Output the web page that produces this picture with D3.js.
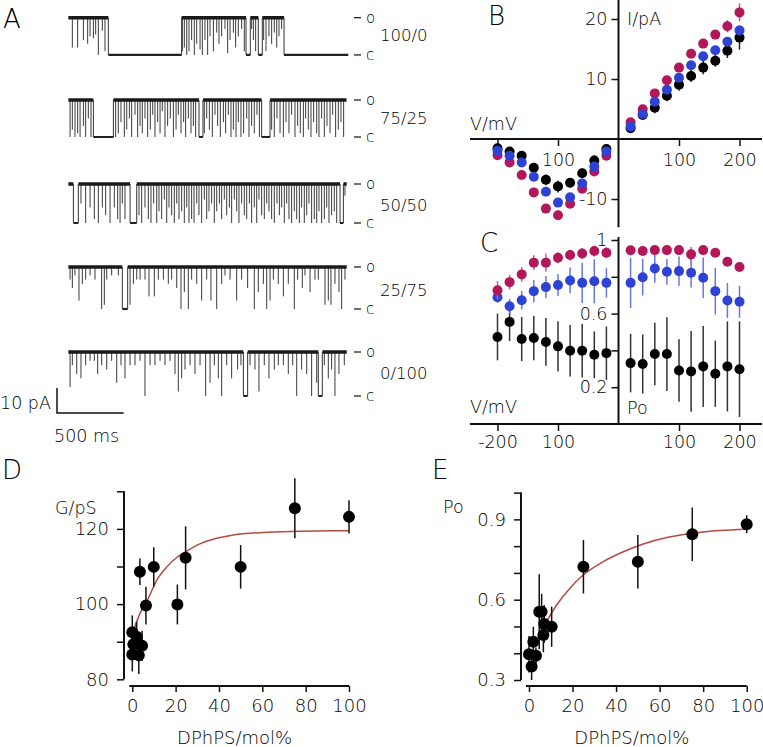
<!DOCTYPE html>
<html><head><meta charset="utf-8">
<script src="https://cdn.jsdelivr.net/npm/d3@7"></script>
<style>
body{margin:0;background:#fff}
svg{display:block}
text{font-family:"DejaVu Sans","Liberation Sans",sans-serif;font-weight:300;fill:#000}
</style></head><body>
<svg id="fig" width="763" height="747"></svg>
<script>
// ---------- Panel A: single-channel traces (times in ms, depth = fraction of unitary current) ----------
const traceLabels = ["100/0", "75/25", "50/50", "25/75", "0/100"];
const unitaryCurrent = [14.9, 14.8, 15.6, 16.8, 17.6]; // pA
const traceSpan = [[25, 2125], [25, 2112], [25, 2113], [25, 2113], [25, 2113]];

const closed1 = [[325, 875], [1358, 1390], [1450, 1480], [1643, 2125]];
const spikes1 = [[55,.8],[95,.8],[138,.6],[170,.7],[188,.5],[213,.55],[230,.45],[250,1],[280,.35],[300,.9],
 [880,.9],[895,.8],[913,1],[930,.9],[950,.6],[970,1],[988,.7],[1013,.85],[1030,1],[1050,.6],[1070,1],[1088,.5],
 [1113,.9],[1138,.4],[1155,.7],[1175,.5],[1200,.3],[1220,.95],[1238,.6],[1263,.4],[1280,.8],[1300,.5],[1325,.3],[1345,.9],
 [1400,.3],[1413,.6],[1430,.9],[1490,.6],[1508,.9],[1530,.5],[1550,.7],[1570,.4],[1588,.8],[1605,.5],[1625,.3]];

const closed2 = [[213, 363], [1005, 1035], [1475, 1538]];
const spikes2 = [[38,1],[55,.8],[75,1],[95,.9],[113,1],[138,.7],[155,1],[175,.5],[195,1],
 [380,1],[400,.9],[420,.6],[445,1],[463,.8],[483,.5],[500,1],[525,.4],[545,1],[563,.7],[580,.9],[600,.5],[620,1],
 [640,.8],[658,.4],[675,1],[695,.6],[713,.9],[730,.3],[750,1],[770,.7],[790,.5],[813,1],[833,.8],[850,.4],[870,.9],
 [890,.6],[905,1],[925,.5],[945,.9],[963,.7],[980,1],[1045,.9],[1063,.5],[1083,.8],[1105,1],[1125,.4],[1145,.7],
 [1165,1],[1188,.6],[1205,.9],[1225,.4],[1245,1],[1263,.8],[1283,1],[1300,.6],[1320,1],[1340,.9],[1363,.5],[1380,1],
 [1400,.7],[1420,.9],[1440,.4],[1458,1],[1550,.8],[1570,1],[1590,.5],[1613,.9],[1638,1],[1658,.6],[1680,.9],[1700,.4],
 [1725,1],[1745,.7],[1765,.9],[1788,1],[1805,.5],[1825,.8],[1845,1],[1865,.6],[1888,.9],[1905,1],[1925,.5],[1945,1],
 [1965,.7],[1988,.9],[2008,.4],[2030,1],[2050,.8],[2070,.6],[2090,1]];

const closed3 = [[63, 100], [488, 538], [2063, 2088]];
const spikes3 = [[120,.5],[155,1],[188,.6],[220,.9],[250,1],[280,.6],[305,.8],[338,1],[370,.6],[395,.9],[413,1],[430,.5],[450,.9],
 [555,.8],[575,1],[600,.6],[625,.9],[645,1],[665,.5],[688,1],[705,.7],[725,.9],[745,.4],[763,1],[780,.6],[800,.8],[820,1],
 [838,.5],[855,.9],[875,.7],[895,1],[913,.6],[930,1],[950,.9],[968,1],[988,.5],[1005,.8],[1025,1],[1045,.4],[1063,.9],
 [1080,.7],[1100,.5],[1120,1],[1138,.7],[1158,.5],[1175,.9],[1195,.4],[1213,.8],[1233,.6],[1250,1],[1270,.4],[1288,.7],
 [1305,1],[1325,.5],[1345,.8],[1363,.9],[1383,.5],[1400,1],[1420,.6],[1438,1],[1455,.4],[1475,.8],[1495,.9],[1513,.5],
 [1530,.7],[1550,.9],[1570,1],[1590,.5],[1608,.8],[1625,.6],[1645,1],[1663,.5],[1680,.9],[1700,1],[1720,.7],[1738,.9],
 [1758,1],[1775,.6],[1795,1],[1813,.8],[1830,.5],[1850,1],[1870,.9],[1888,1],[1905,.7],[1925,1],[1945,.9],[1963,.6],
 [1980,1],[2000,.8],[2020,.7],[2038,1],[2100,.3]];

const closed4 = [[430, 470]];
const spikes4 = [[38,.3],[55,.5],[75,.2],[105,.8],[130,.4],[155,.3],[188,.2],[225,.3],[275,1],[295,.9],[313,.3],[350,.2],[400,.2],
 [488,.9],[513,.4],[538,.3],[563,.3],[600,.3],[630,.7],[670,.7],[700,.3],[738,.3],[775,.4],[800,.3],[838,.5],[870,1],
 [895,.6],[925,1],[950,.3],[988,.4],[1025,.8],[1063,.3],[1095,.8],[1138,1],[1175,.4],[1200,.2],[1238,.3],[1288,.8],
 [1325,.3],[1370,.5],[1420,1],[1450,.6],[1488,.4],[1513,1],[1538,.8],[1563,.3],[1600,.4],[1638,.7],[1675,.4],[1720,1],
 [1745,.3],[1780,.5],[1800,.2],[1838,.6],[1875,.3],[1900,.3],[1950,.9],[1975,.8],[1995,.9],[2025,.4],[2055,.6],[2075,1],[2100,.3]];

const closed5 = [[1338, 1370], [1900, 1930]];
const spikes5 = [[38,.8],[55,.3],[88,.5],[120,.6],[155,.3],[188,.2],[220,.2],[245,.5],[275,.3],[313,.4],[350,.2],[388,.7],
 [420,.3],[450,.6],[488,.3],[525,.3],[563,.2],[600,1],[638,.3],[675,.3],[713,.2],[750,.3],[788,.2],[825,.5],[850,.9],
 [875,.6],[900,.4],[938,.3],[975,.5],[1013,.3],[1055,1],[1088,.7],[1120,.3],[1150,.6],[1175,1],[1213,.3],[1250,.6],
 [1295,.4],[1320,.3],[1388,.3],[1425,.4],[1455,.9],[1495,.3],[1530,.6],[1570,.4],[1600,.3],[1638,.3],[1675,.5],
 [1708,.3],[1738,1],[1775,.4],[1813,.5],[1850,1],[1888,.7],[1945,.3],[1975,.6],[2000,.4],[2025,1],[2055,.5],[2095,.3]];

const traceClosed = [closed1, closed2, closed3, closed4, closed5];
const traceSpikes = [spikes1, spikes2, spikes3, spikes4, spikes5];

// ---------- Panel B: I-V ----------
const voltages = [-200,-180,-160,-140,-120,-100,-80,-60,-40,-20,20,40,60,80,100,120,140,160,180,200];
const ivBlack = [-1.55,-2.1,-2.8,-4.8,-6.8,-7.9,-7.3,-5.7,-3.6,-1.67,1.8,4.0,5.2,7.2,9.06,10.5,11.9,13.05,14.7,16.9];
const ivBlue  = [-1.94,-2.8,-3.9,-6.3,-8.8,-10.6,-9.7,-7.4,-4.6,-2.1,2.06,4.17,6.2,8.2,10.2,12.3,13.8,14.8,16.2,18.1];
const ivRed   = [-2.7,-3.9,-6.0,-8.9,-11.6,-12.7,-10.8,-8.3,-5.4,-2.8,2.8,4.95,7.6,9.8,11.9,14.2,15.9,17.4,18.8,21.1];
const ivBlackErr = [0.5,0.6,0.6,0.7,0.9,1.0,0.8,0.8,0.9,0.6,0.4,0.5,0.9,0.9,1.0,1.0,1.1,1.0,1.2,2.0];
const ivBlueErr  = [0.5,0.5,0.5,0.5,0.5,0.6,0.6,0.5,0.5,0.5,0.4,0.4,0.5,0.5,0.5,0.5,0.6,0.7,0.7,0.8];
const ivRedErr   = [0.5,0.5,0.5,0.5,0.5,0.5,0.6,0.5,0.5,0.5,0.4,0.4,0.5,0.5,0.5,0.5,0.6,0.8,1.0,1.5];

// ---------- Panel C: Po-V ----------
const poRed   = [0.727,0.771,0.813,0.877,0.877,0.904,0.918,0.927,0.94,0.931,0.944,0.94,0.945,0.945,0.945,0.922,0.945,0.931,0.882,0.853];
const poRedErr= [0.05,0.04,0.04,0.04,0.05,0.03,0.03,0.03,0.03,0.03,0.02,0.02,0.02,0.02,0.02,0.04,0.02,0.02,0.02,0.02];
const poBlue  = [0.689,0.64,0.673,0.722,0.744,0.755,0.78,0.767,0.776,0.767,0.767,0.798,0.845,0.827,0.831,0.822,0.795,0.722,0.671,0.664];
const poBlueErr=[0.03,0.04,0.05,0.06,0.06,0.06,0.07,0.11,0.12,0.08,0.136,0.1,0.077,0.07,0.08,0.08,0.11,0.127,0.095,0.086];
const poBlack = [0.473,0.555,0.462,0.467,0.446,0.422,0.398,0.398,0.376,0.385,0.331,0.326,0.38,0.38,0.291,0.286,0.313,0.273,0.313,0.298];
const poBlackErr=[0.127,0.104,0.12,0.12,0.13,0.136,0.14,0.145,0.127,0.145,0.159,0.16,0.17,0.2,0.17,0.22,0.22,0.18,0.245,0.26];

// ---------- Panel D: conductance vs DPhPS ----------
const dMol = [0, 0.5, 0, 2, 4.5, 3, 3.5, 6.3, 9.9, 20.8, 24.6, 50, 75, 100];
const dG   = [92.5, 89.3, 86.6, 91.3, 88.9, 86.4, 108.6, 99.6, 109.9, 99.9, 112.3, 109.9, 125.5, 123.2];
const dErr = [4.5, 4, 4.5, 4, 4, 5, 3.5, 5, 5.2, 5.3, 8.4, 5.8, 8, 4.4];
const dFitMol = [0.9, 3.6, 6.6, 11.3, 15.9, 20.5, 24.6, 31.2, 38.9, 46.6, 62, 77.4, 100];
const dFitG   = [93.6, 97.6, 100.6, 106.4, 109.9, 112.4, 113.9, 116, 117.5, 118.4, 119.1, 119.4, 119.5];

// ---------- Panel E: Po vs DPhPS ----------
const eMol = [0, 1.2, 2, 3.2, 4.7, 5.8, 6.6, 7, 10.4, 25, 50, 75, 100];
const ePo  = [0.396, 0.35, 0.443, 0.391, 0.555, 0.555, 0.468, 0.509, 0.499, 0.723, 0.742, 0.844, 0.882];
const eErr = [0.068, 0.05, 0.056, 0.03, 0.14, 0.067, 0.064, 0.07, 0.075, 0.1, 0.1, 0.1, 0.033];
const eFitMol = [2.76, 5, 8.1, 12.7, 18.8, 24.9, 34.1, 43.3, 52.5, 63.3, 75.2, 87.7, 100];
const eFitPo  = [0.439, 0.468, 0.518, 0.58, 0.643, 0.692, 0.742, 0.779, 0.808, 0.832, 0.848, 0.858, 0.863];

// ====================== drawing ======================
const svg = d3.select("#fig");
const RED = "#b3175a", BLUE = "#2e43d6", BLACK = "#000";
const FIT = "#b54a42";
const FS = 17.5;

function panelLetter(t, x, y) {
  svg.append("text").attr("x", x).attr("y", y).attr("font-size", 26).text(t);
}

// ----- Panel A -----
panelLetter("A", 3, 28);
const tx = d3.scaleLinear().domain([0, 2125]).range([65, 348.3]);
const pxPerPA = d3.scaleLinear().domain([0, 10]).range([0, 25]);
const openY = [17.7, 100, 184, 267, 352];
const labelY = [35, 118, 205, 290, 373];

traceLabels.forEach((lab, i) => {
  const y0 = openY[i];
  const amp = pxPerPA(unitaryCurrent[i]);
  const y1 = y0 + amp;
  const [t0, t1] = traceSpan[i];
  const cl = traceClosed[i];
  const g = svg.append("g");
  const openSegs = [];
  let cur = t0;
  cl.forEach(([a, b]) => { if (a > cur) openSegs.push([cur, a]); cur = b; });
  if (cur < t1) openSegs.push([cur, t1]);
  // brief closures (drawn first, beneath the open band)
  const ps = d3.path();
  traceSpikes[i].forEach(([t, d]) => { ps.moveTo(tx(t), y0); ps.lineTo(tx(t), y0 + d * amp); });
  g.append("path").attr("d", ps.toString()).attr("stroke", "#3a3a3a").attr("stroke-width", 1).attr("fill", "none");
  // open segments
  const p = d3.path();
  openSegs.forEach(([a, b]) => { p.moveTo(tx(a), y0); p.lineTo(tx(b), y0); });
  g.append("path").attr("d", p.toString()).attr("stroke", "#1a1a1a").attr("stroke-width", 3.6).attr("fill", "none");
  // closed segments and transitions
  const pc = d3.path();
  cl.forEach(([a, b]) => { pc.moveTo(tx(a), y1); pc.lineTo(tx(b), y1); });
  g.append("path").attr("d", pc.toString()).attr("stroke", "#222").attr("stroke-width", 2.2).attr("fill", "none");
  const pt = d3.path();
  cl.forEach(([a, b]) => {
    if (a > t0) { pt.moveTo(tx(a), y0); pt.lineTo(tx(a), y1); }
    if (b < t1) { pt.moveTo(tx(b), y1); pt.lineTo(tx(b), y0); }
  });
  g.append("path").attr("d", pt.toString()).attr("stroke", "#333").attr("stroke-width", 1).attr("fill", "none");
  [[y0, "o"], [y1, "c"]].forEach(([yy, s]) => {
    svg.append("line").attr("x1", 354).attr("x2", 361).attr("y1", yy).attr("y2", yy).attr("stroke", "#111").attr("stroke-width", 1.2);
    svg.append("text").attr("x", 366).attr("y", yy + 5).attr("font-size", 15).text(s);
  });
  svg.append("text").attr("x", 380).attr("y", labelY[i] + 6).attr("font-size", 16.5).text(lab);
});
const sbX = 57, sbY = 413;
svg.append("path").attr("d", `M${sbX},${sbY - pxPerPA(10)}V${sbY}H${sbX + tx(500) - tx(0)}`)
  .attr("stroke", "#111").attr("stroke-width", 1.5).attr("fill", "none");
svg.append("text").attr("x", 0).attr("y", 409).attr("font-size", FS).text("10 pA");
svg.append("text").attr("x", 54).attr("y", 442).attr("font-size", FS).text("500 ms");

// ----- Panels B & C share voltage scale -----
const xV = d3.scaleLinear().domain([-200, 200]).range([497.5, 739.5]);

function styleAxis(g, fs) {
  g.select(".domain").remove();
  g.selectAll(".tick line").attr("stroke", "#111").attr("stroke-width", 1.5);
  g.selectAll(".tick text").attr("font-size", fs).attr("fill", "#000")
    .style("font-family", '"DejaVu Sans","Liberation Sans",sans-serif').style("font-weight", 300);
}
function dots(g, xs, ys, errs, xScale, yScale, color, errColor, r) {
  g.append("g").selectAll("line").data(xs).join("line")
    .attr("x1", (d) => xScale(d)).attr("x2", (d) => xScale(d))
    .attr("y1", (d, i) => yScale(ys[i] - errs[i])).attr("y2", (d, i) => yScale(ys[i] + errs[i]))
    .attr("stroke", errColor).attr("stroke-width", 1.5);
  g.append("g").selectAll("circle").data(xs).join("circle")
    .attr("cx", (d) => xScale(d)).attr("cy", (d, i) => yScale(ys[i])).attr("r", r).attr("fill", color);
}

// ----- Panel B -----
panelLetter("B", 488, 25);
const yI = d3.scaleLinear().domain([-10, 20]).range([199, 19]);
svg.append("line").attr("x1", xV(0)).attr("x2", xV(0)).attr("y1", 0).attr("y2", yI(-14.7)).attr("stroke", "#111").attr("stroke-width", 2);
svg.append("line").attr("x1", 470).attr("x2", 762).attr("y1", yI(0)).attr("y2", yI(0)).attr("stroke", "#111").attr("stroke-width", 2);
const bYAx = svg.append("g").attr("transform", `translate(${xV(0)},0)`)
  .call(d3.axisLeft(yI).tickValues([-10, 10, 20]).tickSize(7).tickPadding(4).tickFormat((d) => d < 0 ? "-" + Math.abs(d) : d));
styleAxis(bYAx, FS);
const bXAx = svg.append("g").attr("transform", `translate(0,${yI(0)})`)
  .call(d3.axisBottom(xV).tickValues([-200, -100, 100, 200]).tickSize(7).tickPadding(8)
    .tickFormat((d) => d === -200 ? "" : String(Math.abs(d))));
styleAxis(bXAx, FS);
svg.append("text").attr("x", 627).attr("y", 25).attr("font-size", FS).text("I/pA");
svg.append("text").attr("x", 470).attr("y", 130).attr("font-size", FS).text("V/mV");
const gB = svg.append("g");
dots(gB, voltages, ivBlack, ivBlackErr, xV, yI, BLACK, "#222", 5);
dots(gB, voltages, ivRed, ivRedErr, xV, yI, RED, "#c05580", 5);
dots(gB, voltages, ivBlue, ivBlueErr, xV, yI, BLUE, "#5a6be0", 5);

// ----- Panel C -----
panelLetter("C", 480, 252);
const yP = d3.scaleLinear().domain([0, 1]).range([424, 240]);
svg.append("line").attr("x1", xV(0)).attr("x2", xV(0)).attr("y1", 237).attr("y2", yP(0)).attr("stroke", "#111").attr("stroke-width", 2);
svg.append("line").attr("x1", 470).attr("x2", 762).attr("y1", yP(0)).attr("y2", yP(0)).attr("stroke", "#111").attr("stroke-width", 2);
const cYAx = svg.append("g").attr("transform", `translate(${xV(0)},0)`)
  .call(d3.axisLeft(yP).tickValues([0.2, 0.4, 0.6, 0.8, 1]).tickSize(7).tickPadding(4)
    .tickFormat((d) => (Math.abs(d - 0.4) < 1e-6 || Math.abs(d - 0.8) < 1e-6) ? "" : (d === 1 ? "1" : d3.format(".1f")(d))));
styleAxis(cYAx, FS);
const cXAx = svg.append("g").attr("transform", `translate(0,${yP(0)})`)
  .call(d3.axisBottom(xV).tickValues([-200, -100, 100, 200]).tickSize(7).tickPadding(5)
    .tickFormat((d) => d === -200 ? "-200" : String(Math.abs(d))));
styleAxis(cXAx, FS);
svg.append("text").attr("x", 470).attr("y", 413).attr("font-size", FS).text("V/mV");
svg.append("text").attr("x", 627).attr("y", 414).attr("font-size", FS).text("Po");
const gC = svg.append("g");
dots(gC, voltages, poBlack, poBlackErr, xV, yP, BLACK, "#333", 5);
dots(gC, voltages, poBlue, poBlueErr, xV, yP, BLUE, "#6677e6", 5);
dots(gC, voltages, poRed, poRedErr, xV, yP, RED, "#c8608a", 5);

// ----- Panel D -----
panelLetter("D", 2, 479);
const xD = d3.scaleLinear().domain([0, 100]).range([132.3, 349]);
const yD = d3.scaleLinear().domain([80, 130]).range([679.3, 491.3]);
svg.append("line").attr("x1", 124).attr("x2", 124).attr("y1", yD(130)).attr("y2", yD(80)).attr("stroke", "#111").attr("stroke-width", 2);
svg.append("line").attr("x1", xD(0) - 3).attr("x2", xD(100)).attr("y1", 686).attr("y2", 686).attr("stroke", "#111").attr("stroke-width", 2);
const dYAx = svg.append("g").attr("transform", "translate(124,0)")
  .call(d3.axisLeft(yD).tickValues([80, 90, 100, 110, 120, 130]).tickSize(7).tickPadding(8)
    .tickFormat((d) => (d === 90 || d === 110 || d === 130) ? "" : d));
styleAxis(dYAx, 18);
const dXAx = svg.append("g").attr("transform", "translate(0,686)")
  .call(d3.axisBottom(xD).tickValues([0, 20, 40, 60, 80, 100]).tickSize(6).tickPadding(7));
styleAxis(dXAx, 18);
svg.append("text").attr("x", 55).attr("y", 514).attr("font-size", FS).text("G/pS");
svg.append("text").attr("x", xD(50) - 6).attr("y", 744).attr("font-size", 18).attr("text-anchor", "middle").text("DPhPS/mol%");
const gD = svg.append("g");
gD.append("path").datum(dFitMol.map((m, i) => [m, dFitG[i]]))
  .attr("d", d3.line().x((d) => xD(d[0])).y((d) => yD(d[1])).curve(d3.curveMonotoneX))
  .attr("fill", "none").attr("stroke", FIT).attr("stroke-width", 1.5);
dots(gD, dMol, dG, dErr, xD, yD, BLACK, "#111", 6);

// ----- Panel E -----
panelLetter("E", 432, 479);
const xE = d3.scaleLinear().domain([0, 100]).range([529, 746.7]);
const yE = d3.scaleLinear().domain([0.3, 1.0]).range([680, 492.6]);
svg.append("line").attr("x1", 521).attr("x2", 521).attr("y1", yE(1)).attr("y2", yE(0.3)).attr("stroke", "#111").attr("stroke-width", 2);
svg.append("line").attr("x1", xE(0) - 3).attr("x2", xE(100)).attr("y1", 686).attr("y2", 686).attr("stroke", "#111").attr("stroke-width", 2);
const eYAx = svg.append("g").attr("transform", "translate(521,0)")
  .call(d3.axisLeft(yE).tickValues([0.3, 0.4, 0.5, 0.6, 0.7, 0.8, 0.9, 1.0]).tickSize(7).tickPadding(8)
    .tickFormat((d) => [0.3, 0.6, 0.9].some((v) => Math.abs(v - d) < 1e-6) ? d3.format(".1f")(d) : ""));
styleAxis(eYAx, 18);
const eXAx = svg.append("g").attr("transform", "translate(0,686)")
  .call(d3.axisBottom(xE).tickValues([0, 20, 40, 60, 80, 100]).tickSize(6).tickPadding(7));
styleAxis(eXAx, 18);
svg.append("text").attr("x", 443).attr("y", 513).attr("font-size", FS).text("Po");
svg.append("text").attr("x", xE(50) - 6).attr("y", 744).attr("font-size", 18).attr("text-anchor", "middle").text("DPhPS/mol%");
const gE = svg.append("g");
gE.append("path").datum(eFitMol.map((m, i) => [m, eFitPo[i]]))
  .attr("d", d3.line().x((d) => xE(d[0])).y((d) => yE(d[1])).curve(d3.curveMonotoneX))
  .attr("fill", "none").attr("stroke", FIT).attr("stroke-width", 1.5);
dots(gE, eMol, ePo, eErr, xE, yE, BLACK, "#111", 6);
</script>
</body></html>
